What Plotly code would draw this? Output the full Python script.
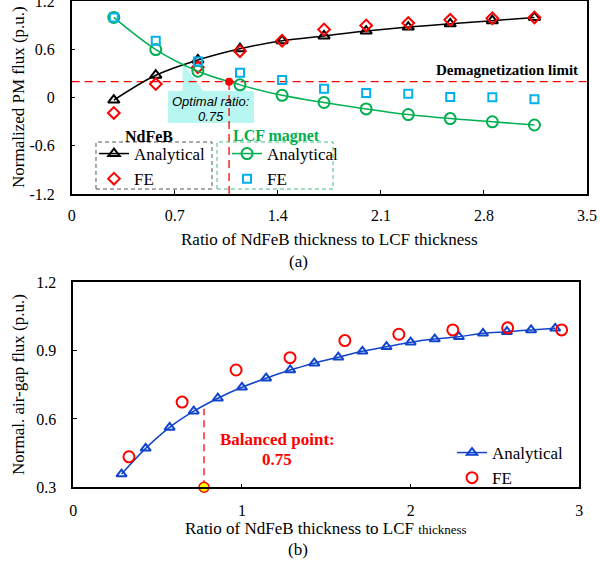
import plotly.graph_objects as go

# ---------------- data (a) ----------------
ratio_a = [0.286, 0.571, 0.857, 1.143, 1.429, 1.714, 2.0, 2.286, 2.571, 2.857, 3.143]
ndfeb_analytical = [-0.03, 0.28, 0.47, 0.61, 0.71, 0.77, 0.83, 0.88, 0.92, 0.96, 1.0]
ndfeb_fe = [-0.19, 0.17, 0.38, 0.58, 0.71, 0.85, 0.90, 0.93, 0.97, 0.99, 1.0]
lcf_analytical = [1.0, 0.60, 0.33, 0.16, 0.03, -0.06, -0.14, -0.21, -0.26, -0.30, -0.34]
lcf_fe = [1.0, 0.71, 0.45, 0.31, 0.22, 0.11, 0.06, 0.05, 0.01, 0.005, -0.02]
demag_limit = 0.2
optimal_x = 1.069

# ---------------- data (b) ----------------
ratio_b_analytical = [0.286, 0.429, 0.571, 0.714, 0.857, 1.0, 1.143, 1.286, 1.429, 1.571,
                      1.714, 1.857, 2.0, 2.143, 2.286, 2.429, 2.571, 2.714, 2.857]
airgap_analytical = [0.358, 0.471, 0.563, 0.634, 0.691, 0.739, 0.779, 0.815, 0.845, 0.871,
                     0.897, 0.917, 0.937, 0.951, 0.961, 0.976, 0.983, 0.991, 0.998]
ratio_b_fe = [0.33, 0.645, 0.965, 1.285, 1.61, 1.93, 2.25, 2.575, 2.895]
airgap_fe = [0.434, 0.674, 0.815, 0.869, 0.944, 0.972, 0.991, 1.0, 0.991]
balanced_x = 0.775
balanced_y_top = 0.645

xticks_a = [0, 0.7, 1.4, 2.1, 2.8, 3.5]
xticks_a_text = ["0", "0.7", "1.4", "2.1", "2.8", "3.5"]
yticks_a = [-1.2, -0.6, 0, 0.6, 1.2]
yticks_a_text = ["-1.2", "-0.6", "0", "0.6", "1.2"]
xticks_b = [0, 1, 2, 3]
yticks_b = [0.3, 0.6, 0.9, 1.2]
yticks_b_text = ["0.3", "0.6", "0.9", "1.2"]

W, H = 600, 564
SERIF = "Liberation Serif, Times New Roman, serif"
BLACK = "#000000"
RED = "#ff0000"
GREEN = "#00b050"
CYAN = "#00b0f0"
BLUE = "#1144cc"


def px(x):
    return x / W


def py(y):
    return 1 - y / H


fig = go.Figure()

# ---- (a) traces ----
fig.add_trace(go.Scatter(
    x=ratio_a, y=ndfeb_analytical, mode="lines+markers", name="Analytical",
    line=dict(color=BLACK, width=1.5, shape="spline"),
    marker=dict(symbol="triangle-up-open", size=10, color=BLACK, line=dict(width=2)),
    xaxis="x", yaxis="y", legend="legend"))
fig.add_trace(go.Scatter(
    x=ratio_a, y=ndfeb_fe, mode="markers", name="FE",
    marker=dict(symbol="diamond-open", size=9, color=RED, line=dict(width=2)),
    xaxis="x", yaxis="y", legend="legend"))
fig.add_trace(go.Scatter(
    x=ratio_a, y=lcf_analytical, mode="lines+markers", name="Analytical",
    line=dict(color=GREEN, width=1.5, shape="spline"),
    marker=dict(symbol="circle-open", size=11, color=GREEN, line=dict(width=2)),
    xaxis="x", yaxis="y", legend="legend2"))
fig.add_trace(go.Scatter(
    x=ratio_a, y=lcf_fe, mode="markers", name="FE",
    marker=dict(symbol="square-open", size=8, color=CYAN, line=dict(width=2)),
    xaxis="x", yaxis="y", legend="legend2"))
fig.add_trace(go.Scatter(
    x=[optimal_x], y=[demag_limit], mode="markers", showlegend=False,
    marker=dict(symbol="circle", size=8, color=RED),
    xaxis="x", yaxis="y"))

# ---- (b) traces ----
fig.add_trace(go.Scatter(
    x=ratio_b_analytical, y=airgap_analytical, mode="lines+markers", name="Analytical",
    line=dict(color=BLUE, width=1.5, shape="spline"),
    marker=dict(symbol="triangle-up-open", size=9, color=BLUE, line=dict(width=2)),
    xaxis="x2", yaxis="y2", legend="legend3"))
fig.add_trace(go.Scatter(
    x=ratio_b_fe, y=airgap_fe, mode="markers", name="FE",
    marker=dict(symbol="circle-open", size=11, color=RED, line=dict(width=2)),
    xaxis="x2", yaxis="y2", legend="legend3"))
fig.add_trace(go.Scatter(
    x=[balanced_x], y=[0.3], mode="markers", showlegend=False, cliponaxis=False,
    marker=dict(symbol="circle", size=10, color="#ffff00", line=dict(color=RED, width=1.5)),
    xaxis="x2", yaxis="y2"))

shapes = [
    # callout box
    dict(type="path", xref="x", yref="y", layer="below",
         path="M 0.654,0.083 L 0.754,0.083 L 0.754,0.436 L 0.892,0.083 L 1.238,0.083 "
              "L 1.238,-0.315 L 0.654,-0.315 Z",
         fillcolor="#b8f6f1", line=dict(width=0)),
    # demagnetization limit
    dict(type="line", xref="x", yref="y", layer="below", x0=0, x1=3.5, y0=demag_limit, y1=demag_limit,
         line=dict(color=RED, width=1.3, dash="8px,5px")),
    dict(type="line", xref="x", yref="y", layer="below", x0=optimal_x, x1=optimal_x, y0=-1.2, y1=demag_limit,
         line=dict(color=RED, width=1.3, dash="8px,5px")),
    # legend frames
    dict(type="rect", xref="x", yref="y", x0=0.165, x1=0.953, y0=-1.138, y1=-0.552,
         line=dict(color="#555555", width=1, dash="4px,3px")),
    dict(type="rect", xref="x", yref="y", x0=0.987, x1=1.775, y0=-1.138, y1=-0.552,
         line=dict(color="#40c080", width=1, dash="4px,3px")),
    # balanced point line
    dict(type="line", xref="x2", yref="y2", layer="below", x0=balanced_x, x1=balanced_x, y0=0.3, y1=balanced_y_top,
         line=dict(color=RED, width=1.3, dash="7px,5px")),
]

annotations = [
    dict(x=0.946, y=-0.05, xref="x", yref="y", text="<i>Optimal ratio:</i>", showarrow=False,
         font=dict(family="Liberation Sans", size=13, color=BLACK), xanchor="center", yanchor="middle"),
    dict(x=0.946, y=-0.23, xref="x", yref="y", text="<i>0.75</i>", showarrow=False,
         font=dict(family="Liberation Sans", size=13, color=BLACK), xanchor="center", yanchor="middle"),
    dict(x=3.455, y=0.345, xref="x", yref="y", text="<b>Demagnetization limit</b>", showarrow=False,
         font=dict(family=SERIF, size=15, color=BLACK), xanchor="right", yanchor="middle"),
    dict(x=px(149), y=py(136), xref="paper", yref="paper", text="<b>NdFeB</b>", showarrow=False,
         font=dict(family=SERIF, size=16, color=BLACK), xanchor="center", yanchor="middle"),
    dict(x=px(276), y=py(136), xref="paper", yref="paper", text="<b>LCF magnet</b>", showarrow=False,
         font=dict(family=SERIF, size=16, color=GREEN), xanchor="center", yanchor="middle"),
    # axis titles & captions
    dict(x=px(18), y=py(97), xref="paper", yref="paper", text="Normalized PM flux (p.u.)",
         textangle=-90, showarrow=False, font=dict(family=SERIF, size=17, color=BLACK),
         xanchor="center", yanchor="middle"),
    dict(x=px(329), y=py(240), xref="paper", yref="paper",
         text="Ratio of NdFeB thickness to LCF thickness", showarrow=False,
         font=dict(family=SERIF, size=17, color=BLACK), xanchor="center", yanchor="middle"),
    dict(x=px(298), y=py(261), xref="paper", yref="paper", text="(a)", showarrow=False,
         font=dict(family=SERIF, size=17, color=BLACK), xanchor="center", yanchor="middle"),
    dict(x=px(18), y=py(385), xref="paper", yref="paper", text="Normal. air-gap flux (p.u.)",
         textangle=-90, showarrow=False, font=dict(family=SERIF, size=17, color=BLACK),
         xanchor="center", yanchor="middle"),
    dict(x=px(326), y=py(528), xref="paper", yref="paper",
         text="Ratio of NdFeB thickness to LCF <span style='font-size:13px'>thickness</span>",
         showarrow=False, font=dict(family=SERIF, size=17, color=BLACK), xanchor="center", yanchor="middle"),
    dict(x=px(298), y=py(549), xref="paper", yref="paper", text="(b)", showarrow=False,
         font=dict(family=SERIF, size=17, color=BLACK), xanchor="center", yanchor="middle"),
    # balanced point
    dict(x=1.21, y=0.51, xref="x2", yref="y2", text="<b>Balanced point:</b>", showarrow=False,
         font=dict(family=SERIF, size=17, color=RED), xanchor="center", yanchor="middle"),
    dict(x=1.21, y=0.42, xref="x2", yref="y2", text="<b>0.75</b>", showarrow=False,
         font=dict(family=SERIF, size=17, color=RED), xanchor="center", yanchor="middle"),
]

axis_common = dict(showline=True, linecolor=BLACK, linewidth=1.5, mirror=True, ticks="inside",
                   ticklen=4, tickcolor=BLACK, showgrid=False, zeroline=False, automargin=False,
                   ticklabeloverflow="allow",
                   tickfont=dict(family=SERIF, size=16, color=BLACK))

legend_common = dict(bgcolor="rgba(0,0,0,0)", borderwidth=0, font=dict(family=SERIF, size=17, color=BLACK),
                     xanchor="left", yanchor="top", tracegroupgap=0, itemwidth=30)

fig.update_layout(
    width=W, height=H, margin=dict(l=0, r=0, t=0, b=0, autoexpand=False),
    paper_bgcolor="white", plot_bgcolor="white",
    xaxis=dict(domain=[px(71.7), px(587)], range=[0, 3.5], tickvals=xticks_a, ticktext=xticks_a_text,
               anchor="y", ticklabelstandoff=6, **axis_common),
    yaxis=dict(domain=[py(194), py(1.4)], range=[-1.2, 1.2], tickvals=yticks_a,
               ticktext=yticks_a_text, anchor="x", ticklabelstandoff=12, **axis_common),
    xaxis2=dict(domain=[px(73.3), px(579.3)], range=[0, 3], tickvals=xticks_b,
                anchor="y2", ticklabelstandoff=8, **axis_common),
    yaxis2=dict(domain=[py(487.3), py(282.3)], range=[0.3, 1.2], tickvals=yticks_b,
                ticktext=yticks_b_text, anchor="x2", ticklabelstandoff=12, **axis_common),
    legend=dict(x=px(94), y=py(136), **legend_common),
    legend2=dict(x=px(227), y=py(136), **legend_common),
    legend3=dict(x=px(452), y=py(435), **legend_common),
    shapes=shapes, annotations=annotations,
)

fig.write_html("out.html",
               config={"displayModeBar": False},
               post_script="document.body.style.margin='0px';"
                           "document.documentElement.style.overflow='hidden';")
